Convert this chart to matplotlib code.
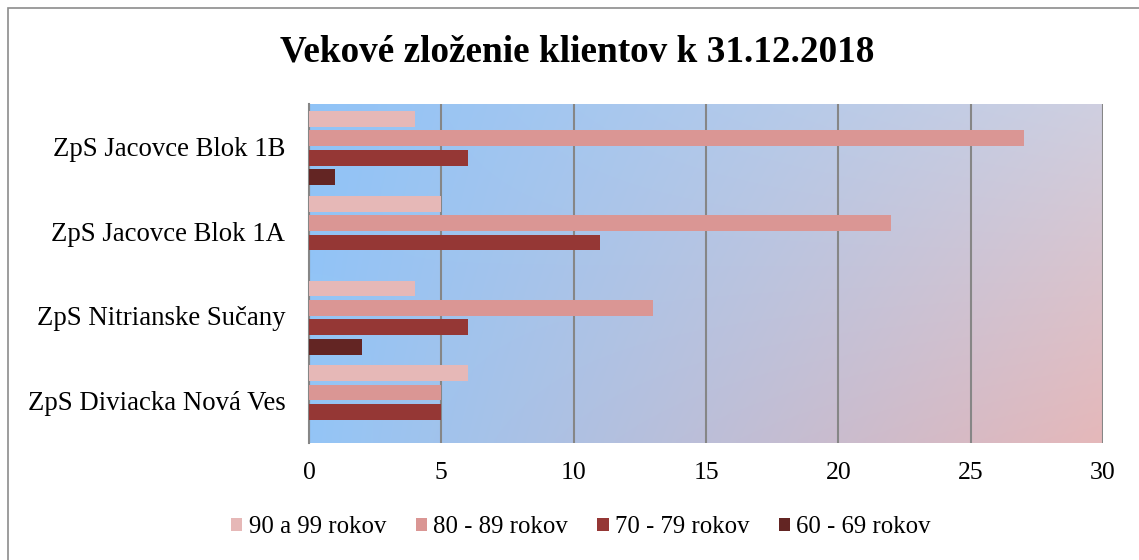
import matplotlib
matplotlib.use("Agg")
import matplotlib.pyplot as plt
import numpy as np
from matplotlib.patches import Rectangle

plt.rcParams['font.family'] = ['Liberation Serif', 'DejaVu Serif']

title = "Vekové zloženie klientov k 31.12.2018"
categories = ["ZpS Diviacka Nová Ves", "ZpS Nitrianske Sučany",
              "ZpS Jacovce Blok 1A", "ZpS Jacovce Blok 1B"]
series_names = ["90 a 99 rokov", "80 - 89 rokov", "70 - 79 rokov", "60 - 69 rokov"]
v_90_99 = [6, 4, 5, 4]
v_80_89 = [5, 13, 22, 27]
v_70_79 = [5, 6, 11, 6]
v_60_69 = [0, 2, 0, 1]
series_values = [v_90_99, v_80_89, v_70_79, v_60_69]
colors = ["#E6B8B7", "#DA9694", "#953735", "#632523"]
xticks = [0, 5, 10, 15, 20, 25, 30]

W, H = 1139, 560
fig = plt.figure(figsize=(W / 100, H / 100), dpi=100)
# outer border
fig.patches.append(Rectangle((8 / W, -0.1), 1.2, (1 - 8 / H) + 0.1,
                             transform=fig.transFigure, fill=False,
                             edgecolor="#8c8c8c", linewidth=1.2))

left, right, top, bottom = 309, 1103, 104, 443
ax = fig.add_axes([left / W, 1 - bottom / H, (right - left) / W, (bottom - top) / H])

# gradient background
ny, nx = 60, 120
xs = np.linspace(0, 1, nx)
ys = np.linspace(0, 1, ny)  # 0 = top
X, Y = np.meshgrid(xs, ys)
tl = np.array([0x90, 0xC3, 0xF7]) / 255
tr = np.array([0xCF, 0xCF, 0xE0]) / 255
bl = np.array([0x94, 0xC5, 0xF6]) / 255
br = np.array([0xE5, 0xB8, 0xBA]) / 255
img = (tl[None, None, :] * ((1 - X) * (1 - Y))[..., None]
       + tr[None, None, :] * (X * (1 - Y))[..., None]
       + bl[None, None, :] * ((1 - X) * Y)[..., None]
       + br[None, None, :] * (X * Y)[..., None])
ax.imshow(img, extent=[0, 30, -0.5, len(categories) - 0.5], aspect='auto',
          zorder=0, origin='upper', interpolation='bilinear')

slot = 0.229
barh = 0.186
y = np.arange(len(categories))
for i, (name, vals, c) in enumerate(zip(series_names, series_values, colors)):
    offs = (1.5 - i) * slot - 0.02
    ax.barh(y + offs, vals, height=barh, color=c, label=name, zorder=3)

ax.set_xlim(0, 30)
ax.set_ylim(-0.5, len(categories) - 0.5)
ax.set_xticks(xticks)
ax.set_yticks(y)
ax.set_yticklabels(categories, fontsize=19.3)
ax.tick_params(axis='x', labelsize=18.5, length=0, pad=14)
ax.tick_params(axis='y', length=0, pad=17)
ax.grid(axis='x', color="#868686", linewidth=1.5, zorder=1)
ax.set_axisbelow(True)
for s in ["top", "right", "bottom"]:
    ax.spines[s].set_visible(False)
ax.spines["left"].set_color("#868686")
ax.spines["left"].set_linewidth(1.5)

fig.text(577 / W, 1 - 52 / H, title, ha='center', va='center',
         fontsize=26.8, fontweight='bold')

handles, labels = ax.get_legend_handles_labels()
fig.legend(handles, labels, loc='center', bbox_to_anchor=(581 / W, 1 - 527 / H),
           ncol=4, frameon=False, fontsize=17.8, handlelength=0.45, handleheight=0.45,
           handletextpad=0.25, columnspacing=1.2)

fig.savefig("out.png", dpi=100)
